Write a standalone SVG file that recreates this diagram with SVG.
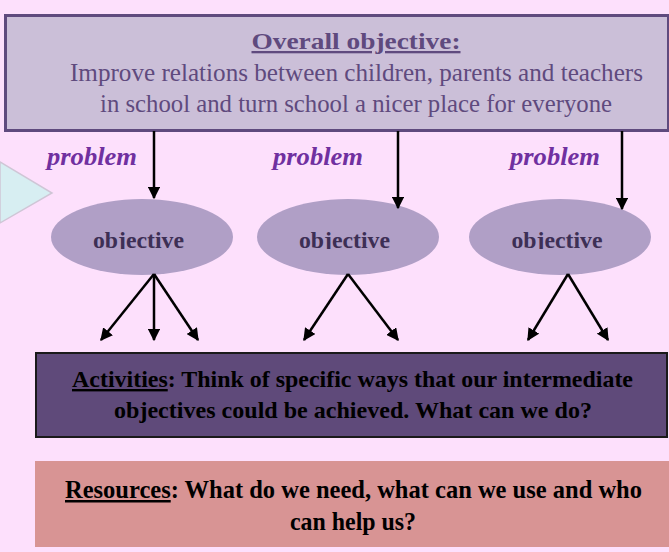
<svg xmlns="http://www.w3.org/2000/svg" width="669" height="552" viewBox="0 0 669 552">
<defs>
<style>
.ser{font-family:"Liberation Serif","Times New Roman",serif}
.ttl{font-weight:bold;fill:#5f4a7e;font-size:23px;text-decoration:underline}
.body{fill:#5f4a7e;font-size:25px}
.prob{font-weight:bold;font-style:italic;fill:#7030a0;font-size:25px}
.obj{font-weight:bold;fill:#3d2f55;font-size:24px}
.act{font-weight:bold;fill:#000;font-size:24px}
.res{font-weight:bold;fill:#000;font-size:25px}
.conn line{stroke:#000;stroke-width:2.5}
</style>
<marker id="ah" viewBox="0 0 10 10" refX="9" refY="5" markerWidth="5" markerHeight="5" markerUnits="strokeWidth" orient="auto">
<path d="M0,0 L10,5 L0,10 z" fill="#000"/>
</marker>
<clipPath id="objclip"><rect x="0" y="0" width="669" height="249"/></clipPath>
</defs>
<rect width="669" height="552" fill="#fde0fc"/>
<g id="pointer">
<polygon points="0,162 52,193 0,223" fill="#d7eef2" stroke="#cfc6d6" stroke-width="1.5"/>
</g>
<g id="overall">
<rect x="5.5" y="15.5" width="663" height="115" fill="#cbbfd8" stroke="#5f4a7e" stroke-width="3"/>
<text class="ser ttl" x="356" y="49" text-anchor="middle" textLength="209" lengthAdjust="spacingAndGlyphs">Overall objective:</text>
<text class="ser body" x="356.5" y="81" text-anchor="middle" textLength="573" lengthAdjust="spacingAndGlyphs">Improve relations between children, parents and teachers</text>
<text class="ser body" x="356" y="112" text-anchor="middle" textLength="512" lengthAdjust="spacingAndGlyphs">in school and turn school a nicer place for everyone</text>
</g>
<g id="problems">
<text class="ser prob" x="47" y="165" textLength="90" lengthAdjust="spacingAndGlyphs">problem</text>
<text class="ser prob" x="273" y="165" textLength="90" lengthAdjust="spacingAndGlyphs">problem</text>
<text class="ser prob" x="510" y="165" textLength="90" lengthAdjust="spacingAndGlyphs">problem</text>
</g>
<g id="obj1">
<ellipse cx="142" cy="237" rx="91" ry="38" fill="#b09fc6"/>
<text class="ser obj" x="138.5" y="248" text-anchor="middle" clip-path="url(#objclip)" textLength="91" lengthAdjust="spacingAndGlyphs">objective</text>
</g>
<g id="obj2">
<ellipse cx="348" cy="237" rx="91" ry="38" fill="#b09fc6"/>
<text class="ser obj" x="344.5" y="248" text-anchor="middle" clip-path="url(#objclip)" textLength="91" lengthAdjust="spacingAndGlyphs">objective</text>
</g>
<g id="obj3">
<ellipse cx="560" cy="237" rx="91" ry="38" fill="#b09fc6"/>
<text class="ser obj" x="557" y="248" text-anchor="middle" clip-path="url(#objclip)" textLength="91" lengthAdjust="spacingAndGlyphs">objective</text>
</g>
<g id="activities">
<rect x="36" y="353" width="631" height="84" fill="#5f4a7a" stroke="#1a1a1a" stroke-width="2"/>
<text class="ser act" x="352.5" y="387" text-anchor="middle" textLength="561" lengthAdjust="spacingAndGlyphs"><tspan text-decoration="underline">Activities</tspan>: Think of specific ways that our intermediate</text>
<text class="ser act" x="353" y="418" text-anchor="middle" textLength="478" lengthAdjust="spacingAndGlyphs">objectives could be achieved. What can we do?</text>
</g>
<g id="resources">
<rect x="35" y="461" width="634" height="86" fill="#d89494"/>
<text class="ser res" x="353.5" y="498" text-anchor="middle" textLength="577" lengthAdjust="spacingAndGlyphs"><tspan text-decoration="underline">Resources</tspan>: What do we need, what can we use and who</text>
<text class="ser res" x="353" y="530" text-anchor="middle" textLength="126" lengthAdjust="spacingAndGlyphs">can help us?</text>
</g>
<g id="connectors" class="conn">
<line x1="154" y1="131" x2="154" y2="198" marker-end="url(#ah)"/>
<line x1="398" y1="131" x2="398" y2="208" marker-end="url(#ah)"/>
<line x1="622" y1="131" x2="622" y2="209" marker-end="url(#ah)"/>
<line x1="154" y1="274" x2="101" y2="340" marker-end="url(#ah)"/>
<line x1="154" y1="274" x2="154" y2="340" marker-end="url(#ah)"/>
<line x1="154" y1="274" x2="198" y2="340" marker-end="url(#ah)"/>
<line x1="348" y1="274" x2="304" y2="340" marker-end="url(#ah)"/>
<line x1="348" y1="274" x2="398" y2="340" marker-end="url(#ah)"/>
<line x1="568" y1="274" x2="528" y2="340" marker-end="url(#ah)"/>
<line x1="568" y1="274" x2="608" y2="340" marker-end="url(#ah)"/>
</g>
</svg>
